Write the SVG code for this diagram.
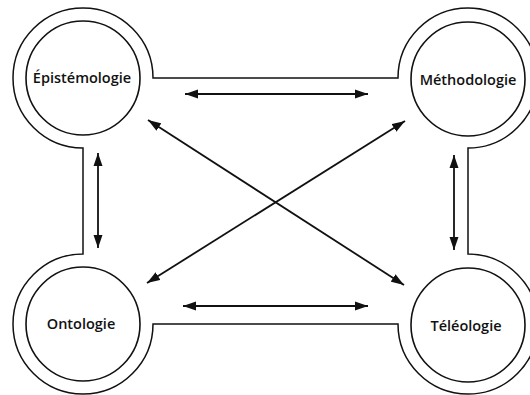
<svg xmlns="http://www.w3.org/2000/svg" width="530" height="395" viewBox="0 0 530 395">
<style>
.frame{fill:none;stroke:#111;stroke-width:1.5}
.node circle{fill:none;stroke:#111;stroke-width:1.6}
.node text{font-family:"Open Sans","Noto Sans",sans-serif;font-weight:600;font-size:14.5px;fill:#111;text-anchor:middle}
.arrow{stroke:#111;stroke-width:1.8;fill:none;marker-start:url(#ah);marker-end:url(#ah)}
</style>
<defs>
<marker id="ah" markerUnits="userSpaceOnUse" markerWidth="14" markerHeight="10" refX="13" refY="4.5" orient="auto-start-reverse" viewBox="0 0 14 9">
<path d="M0,0 L13,4.5 L0,9 z" fill="#111"/>
</marker>
</defs>
<rect width="530" height="395" fill="#fff"/>
<path class="frame" d="M153,78 L398,78 A70,70 0 1 1 468,148 L468,254 A70,70 0 1 1 398,324 L153,324 A70,70 0 1 1 83,254 L83,148 A70,70 0 1 1 153,78 Z"/>
<g id="epistemologie" class="node">
<circle cx="83" cy="78" r="57"/>
<text x="82" y="83">Épistémologie</text>
</g>
<g id="methodologie" class="node">
<circle cx="468" cy="79" r="57"/>
<text x="468" y="85">Méthodologie</text>
</g>
<g id="ontologie" class="node">
<circle cx="83" cy="324" r="57"/>
<text x="81" y="329">Ontologie</text>
</g>
<g id="teleologie" class="node">
<circle cx="468" cy="325" r="57"/>
<text x="466" y="331">Téléologie</text>
</g>
<g id="connectors">
<line class="arrow" x1="185" y1="94" x2="368" y2="94"/>
<line class="arrow" x1="183" y1="306" x2="368" y2="306"/>
<line class="arrow" x1="98" y1="153" x2="98" y2="248"/>
<line class="arrow" x1="454" y1="155" x2="454" y2="250"/>
<line class="arrow" x1="148" y1="120" x2="404" y2="285"/>
<line class="arrow" x1="405" y1="121" x2="147" y2="283"/>
</g>
</svg>
